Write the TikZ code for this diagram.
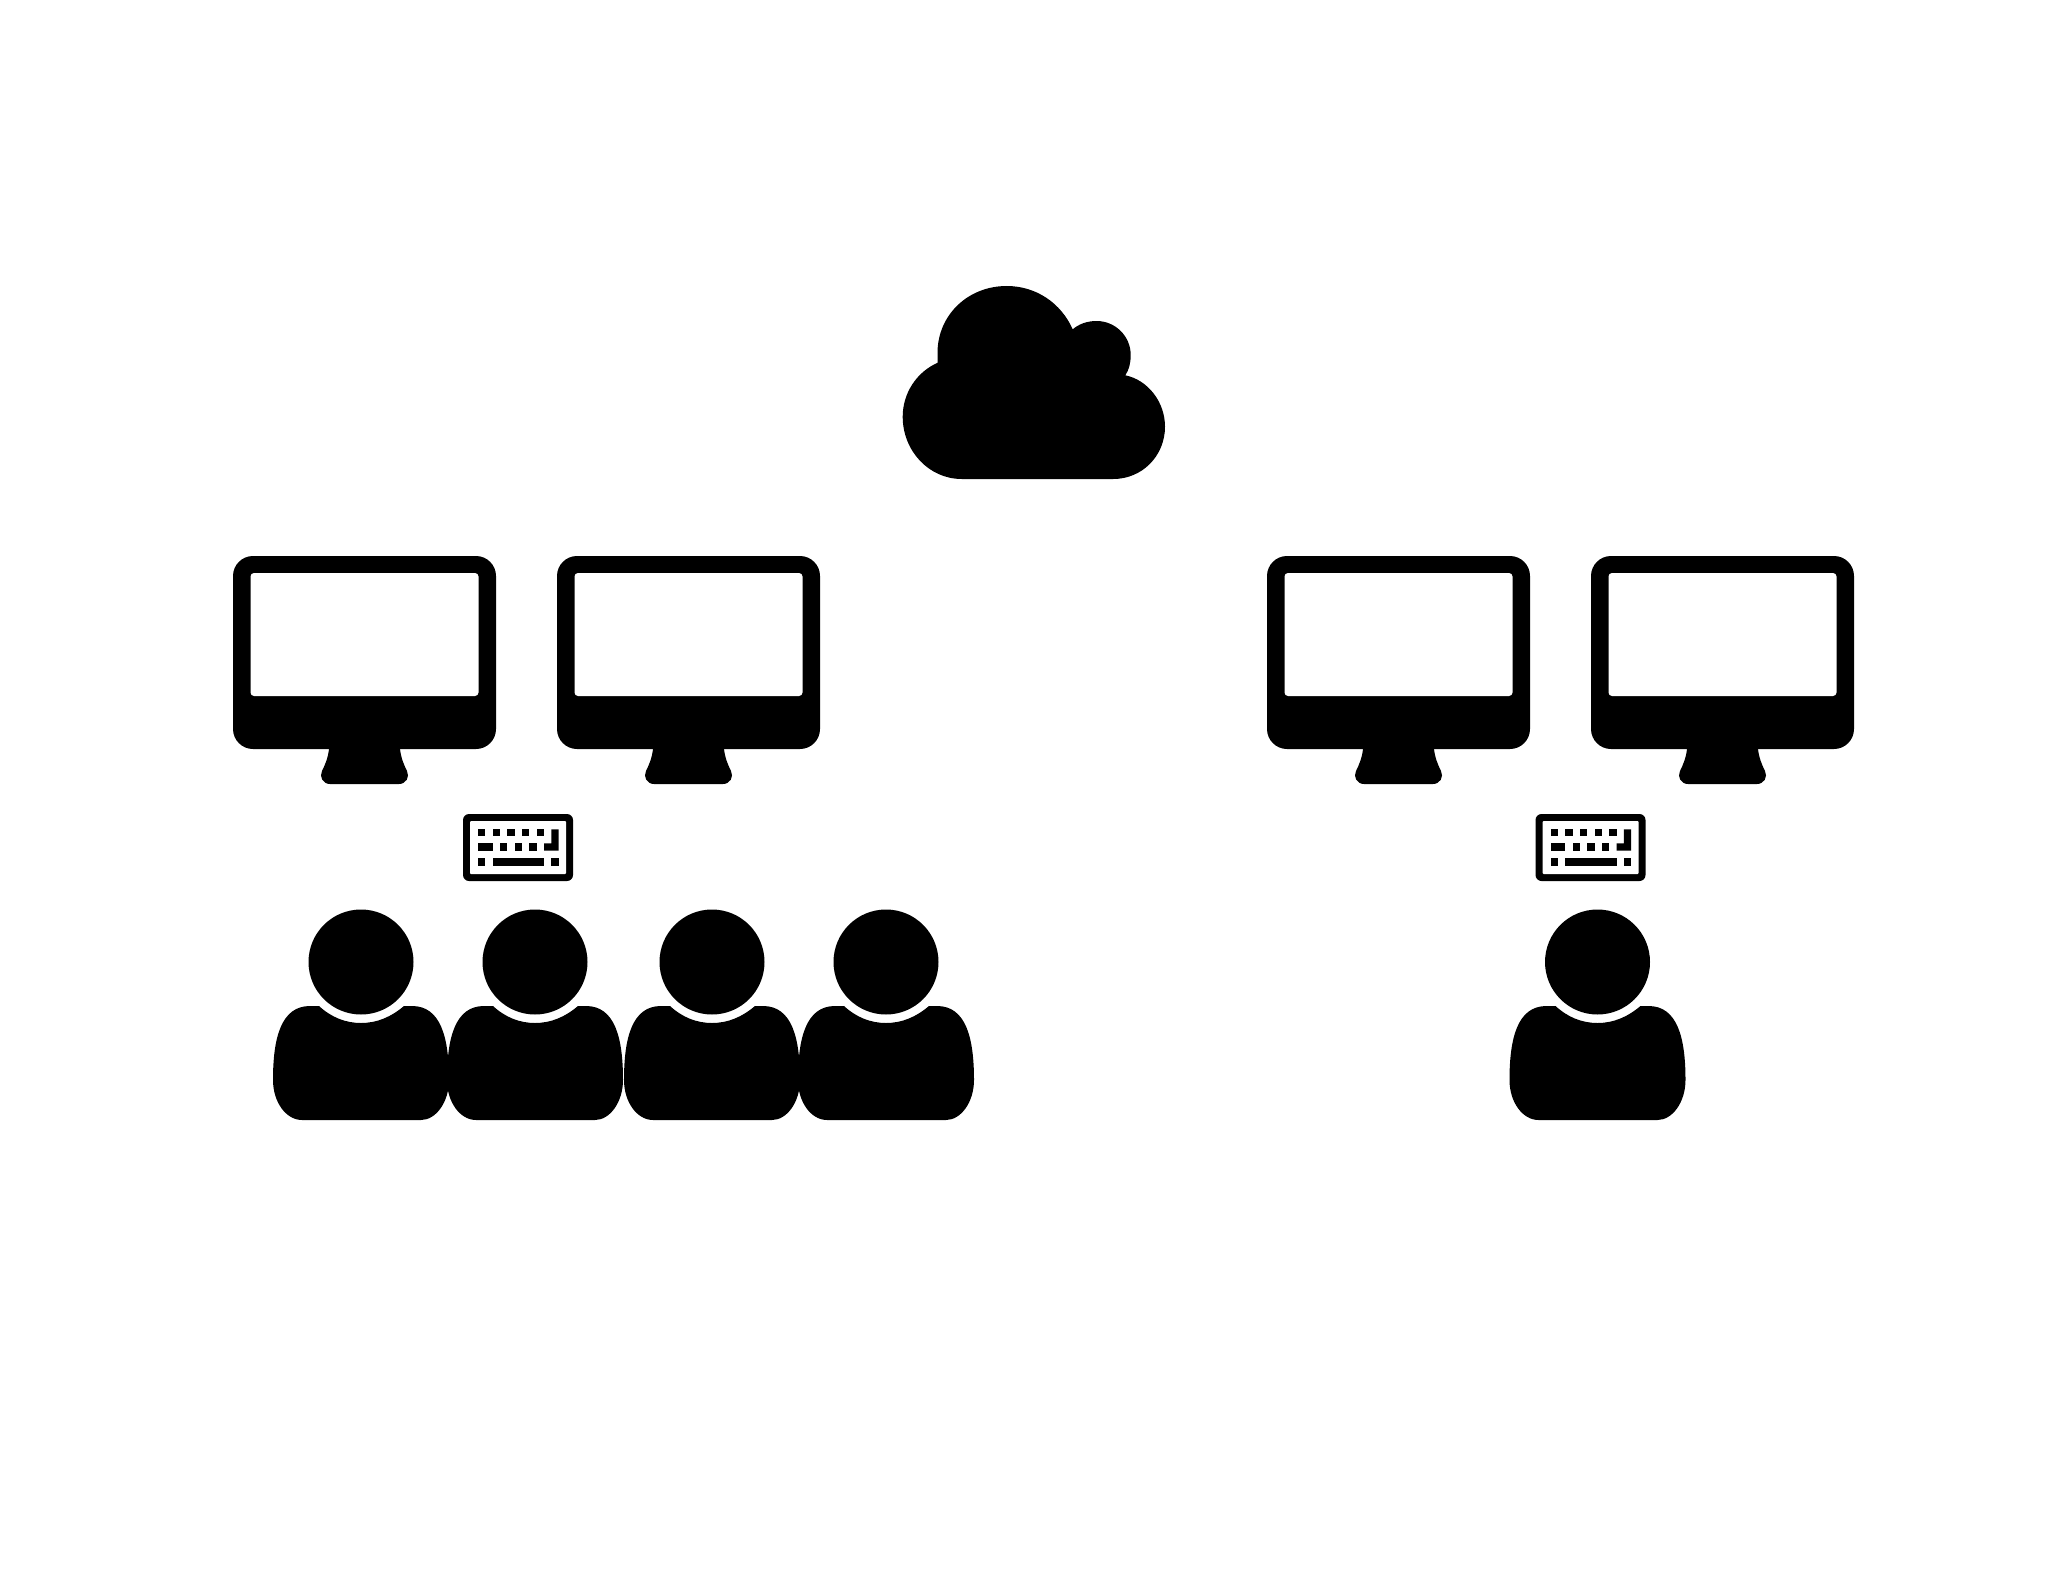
\documentclass[tikz,border=0pt]{standalone}
\usepackage{xcolor}
\usepackage{tikz}

\begin{document}
\begin{tikzpicture}[x=0.01cm, y=-0.01cm,
  iconfill/.style={fill=black, draw=none},
  screenfill/.style={fill=white, draw=none},
  monitor/.pic={
    \path[iconfill, rounded corners=0.2cm] (0,0) rectangle (263,193);
    \path[screenfill, rounded corners=0.035cm] (17.5,17) rectangle (245.5,140);
    \path[iconfill] (96,190) -- (96,193) .. controls (95,202) and (92,209) .. (89,215)
      .. controls (86,221) and (90,228) .. (97,228) -- (166,228)
      .. controls (173,228) and (177,221) .. (174,215)
      .. controls (171,209) and (168,202) .. (167,193) -- (167,190) -- cycle;
  },
  keyboard/.pic={
    \path[iconfill, rounded corners=0.06cm] (0,0) rectangle (110,67);
    \path[screenfill, rounded corners=0.01cm] (7,7) rectangle (103,60);
    % top row
    \path[iconfill] (15,15.3) rectangle (22.3,22);
    \path[iconfill] (29.7,15.3) rectangle (37,22);
    \path[iconfill] (44.3,15.3) rectangle (51.7,22);
    \path[iconfill] (59,15.3) rectangle (66.3,22);
    \path[iconfill] (73.7,15.3) rectangle (81,22);
    \path[iconfill] (88.3,15.3) -- (95.7,15.3) -- (95.7,36.7) -- (81,36.7) -- (81,29.3) -- (88.3,29.3) -- cycle;
    % middle row
    \path[iconfill] (15,29.3) rectangle (29.7,36.7);
    \path[iconfill] (37,29.3) rectangle (44.3,36.7);
    \path[iconfill] (51.7,29.3) rectangle (59,36.7);
    \path[iconfill] (66.3,29.3) rectangle (73.7,36.7);
    % bottom row
    \path[iconfill] (15,44.3) rectangle (22.3,51.7);
    \path[iconfill] (29.7,44.3) rectangle (81,51.7);
    \path[iconfill] (88.3,44.3) rectangle (95.7,51.7);
  },
  person/.pic={
    \path[iconfill] (0,-52.5) .. controls (29,-52.5) and (52.5,-29) .. (52.5,0)
      .. controls (52.5,29) and (29,52.5) .. (0,52.5)
      .. controls (-29,52.5) and (-52.5,29) .. (-52.5,0)
      .. controls (-52.5,-29) and (-29,-52.5) .. (0,-52.5) -- cycle;
    \path[iconfill] (-42,44) .. controls (-30,55) and (-16,61) .. (0,61)
      .. controls (16,61) and (30,55) .. (43,44) -- (51,44)
      .. controls (80,44) and (88,76) .. (88,118)
      .. controls (88,140) and (75,158) .. (60,158) -- (-59,158)
      .. controls (-75,158) and (-88,140) .. (-88,118)
      .. controls (-88,76) and (-80,44) .. (-51,44) -- cycle;
  },
]

\useasboundingbox[fill=white] (0,0) rectangle (2048,1582);

% Cloud
\path[iconfill] (961.7,479) .. controls (929,479) and (902.7,451) .. (902.7,416.7)
  .. controls (902.7,393) and (916.7,372) .. (937.7,362.7)
  .. controls (937.5,358) and (937.5,356) .. (937.5,353)
  .. controls (937.5,315) and (968,286) .. (1006.7,286)
  .. controls (1036,286) and (1061,303) .. (1072.7,329.3)
  .. controls (1079,324) and (1087,321) .. (1096.7,321)
  .. controls (1115,321) and (1130.7,336) .. (1130.7,355)
  .. controls (1130.7,363) and (1129,370) .. (1125.3,375.3)
  .. controls (1148,380) and (1165,402) .. (1165,426.7)
  .. controls (1165,456) and (1142,479) .. (1113.3,479) -- cycle;

% Monitors
\pic (monitorA) at (233,556) {monitor};
\pic (monitorB) at (557,556) {monitor};
\pic (monitorC) at (1267,556) {monitor};
\pic (monitorD) at (1591,556) {monitor};

% Keyboards
\pic (keysA) at (463,814) {keyboard};
\pic (keysB) at (1535.5,814) {keyboard};

% People
\pic (userA) at (361,962) {person};
\pic (userB) at (535,962) {person};
\pic (userC) at (712,962) {person};
\pic (userD) at (886,962) {person};
\pic (userE) at (1597.5,962) {person};

\end{tikzpicture}
\end{document}
